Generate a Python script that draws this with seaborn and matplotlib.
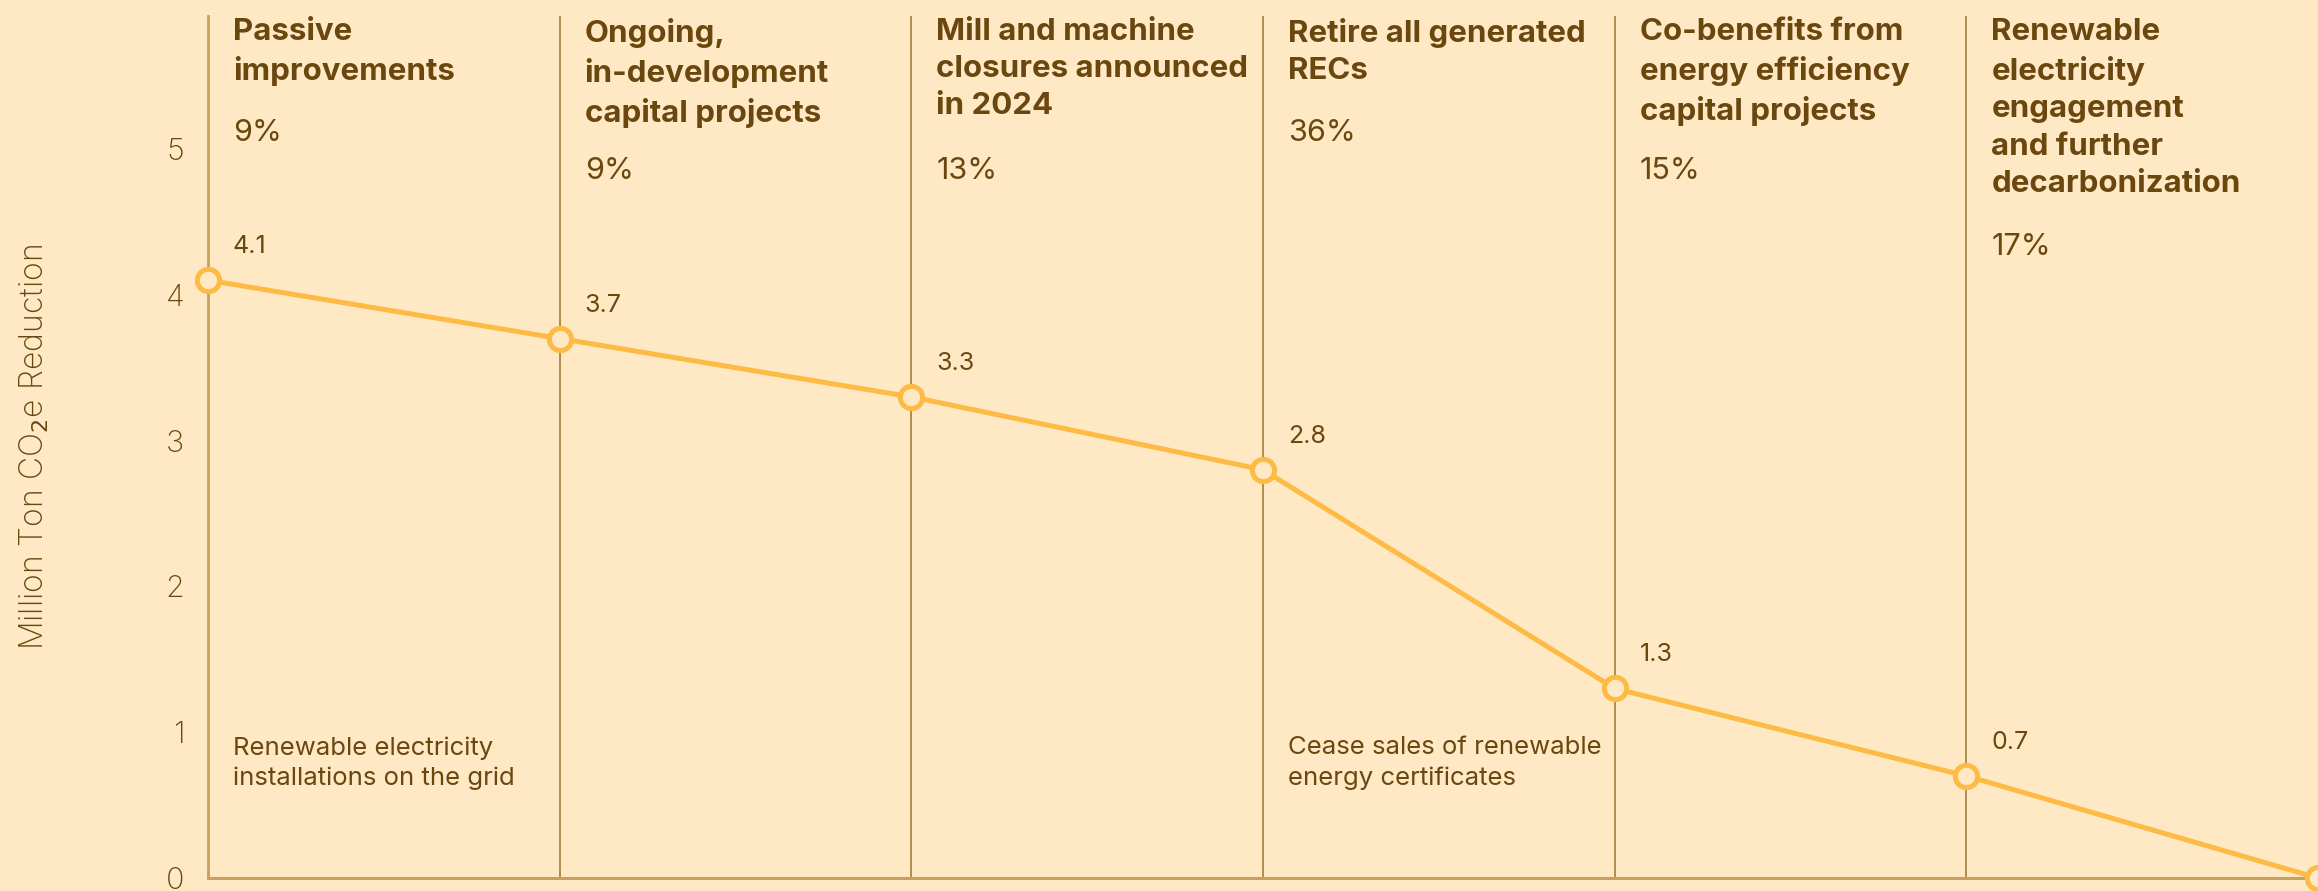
import numpy as np
import pandas as pd
import seaborn as sns
import matplotlib.pyplot as plt
import matplotlib.transforms as mtransforms

# data
steps = [0, 1, 2, 3, 4, 5, 6]
reduction = [4.1, 3.7, 3.3, 2.8, 1.3, 0.7, 0.0]
headers = ['Passive\nimprovements',
           'Ongoing,\nin-development\ncapital projects',
           'Mill and machine\nclosures announced\nin 2024',
           'Retire all generated\nRECs',
           'Co-benefits from\nenergy efficiency\ncapital projects',
           'Renewable\nelectricity\nengagement\nand further\ndecarbonization']
shares = ['9%', '9%', '13%', '36%', '15%', '17%']
notes = {0: 'Renewable electricity\ninstallations on the grid',
         3: 'Cease sales of renewable\nenergy certificates'}

df = pd.DataFrame({'step': steps, 'reduction': reduction})

bg = '#FFE9C5'
brown = '#6B4710'
yellow = '#FDBB45'

sns.set_style('white')
plt.rcParams['font.family'] = ['Inter', 'DejaVu Sans']

fig = plt.figure(figsize=(23.18, 8.91), dpi=100, facecolor=bg)
# axes: left edge at x=208px, bottom at y=878px, top at y=16px
ax = fig.add_axes([208 / 2318, 13 / 891, 1 - 208 / 2318, (878 - 16) / 891])
ax.set_facecolor(bg)

sns.lineplot(data=df, x='step', y='reduction', ax=ax, color=yellow, linewidth=3.6,
             marker='o', markersize=16, markerfacecolor=bg, markeredgecolor=yellow,
             markeredgewidth=3.6, clip_on=False, zorder=5)

ax.set_xlim(0, 6)
ax.set_ylim(0, (878 - 16) / 145.8)
ax.set_yticks([0, 1, 2, 3, 4, 5])
ax.set_xticks([])
ax.tick_params(axis='y', length=0, pad=17, labelsize=22, labelcolor=brown)
for t in ax.get_yticklabels():
    t.set_fontweight('light')
ax.set_xlabel('')
ax.set_ylabel('Million Ton CO$_2$e Reduction', fontsize=23, color=brown,
              fontweight='light', labelpad=0)
ax.yaxis.set_label_coords((51 - 208) / 2110, 0.5)

for s in ['top', 'right']:
    ax.spines[s].set_visible(False)
ax.spines['left'].set_color('#C9A05C')
ax.spines['left'].set_linewidth(2)
ax.spines['bottom'].set_color('#C9A05C')
ax.spines['bottom'].set_linewidth(2.2)

for i in steps[1:6]:
    ax.axvline(i, color='#9A7430', linewidth=1.1, zorder=1)

trans = mtransforms.blended_transform_factory(ax.transData, ax.transAxes)
for i, (h, p) in enumerate(zip(headers, shares)):
    n = h.count('\n') + 1
    ax.annotate(h, xy=(i, 1), xycoords=trans, xytext=(25, -2), textcoords='offset pixels',
                ha='left', va='top', fontsize=22.5, fontweight='bold', color=brown,
                linespacing=1.42)
    ax.annotate(p, xy=(i, 1), xycoords=trans,
                xytext=(25, -(25 + 38 * (n - 1) + 62)), textcoords='offset pixels',
                ha='left', va='baseline', fontsize=22, color=brown)

for x, y in zip(steps, reduction):
    if y > 0:
        ax.annotate(f'{y:g}', xy=(x, y), xytext=(25, 27), textcoords='offset pixels',
                    ha='left', va='baseline', fontsize=18, color=brown)

for i, txt in notes.items():
    ax.annotate(txt, xy=(i, 1.0), xytext=(25, -4), textcoords='offset pixels',
                ha='left', va='top', fontsize=18.5, color=brown,
                linespacing=1.38)

fig.savefig('out.png', dpi=100, facecolor=bg)
